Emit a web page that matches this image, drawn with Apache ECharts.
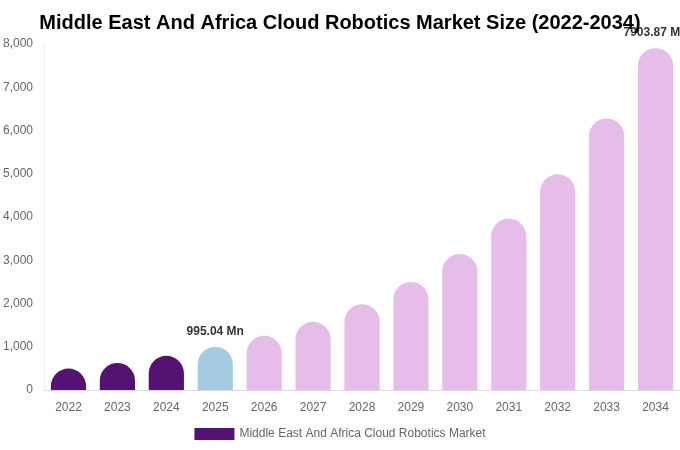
<!DOCTYPE html>
<html><head><meta charset="utf-8">
<script src="https://cdn.jsdelivr.net/npm/echarts@6/dist/echarts.min.js"></script>
<style>html,body{margin:0;padding:0;background:#fff}#c{width:680px;height:450px}</style>
</head><body><div id="c"></div>
<script>
const years = ['2022','2023','2024','2025','2026','2027','2028','2029','2030','2031','2032','2033','2034'];
const values = [495, 625, 790, 995.04, 1252, 1576, 1984, 2498, 3145, 3960, 4986, 6278, 7903.87];
const labelled = {'2025':'995.04 Mn','2034':'7903.87 Mn'};
const seriesName = 'Middle East And Africa Cloud Robotics Market';
const yTicks = [0, 8000, 1000];

function colorFor(y){
  const n = +y;
  if (n < 2025) return '#541273';
  if (n === 2025) return '#a4cbe0';
  return '#e6bde8';
}

const chart = echarts.init(document.getElementById('c'));
chart.setOption({
  animation:false,
  title:{text:'Middle East And Africa Cloud Robotics Market Size (2022-2034)',left:'center',top:8,
    textStyle:{fontFamily:'Liberation Sans',fontWeight:'bold',fontSize:20,color:'#000'}},
  legend:{bottom:5,left:'center',itemWidth:40,itemHeight:12,icon:'rect',
    textStyle:{fontFamily:'Liberation Sans',fontSize:12,color:'#666'},
    data:[{name:seriesName,itemStyle:{color:'#541273'}}]},
  grid:{left:42,right:0,top:44,bottom:60,containLabel:false},
  xAxis:{type:'category',data:years,
    axisLine:{lineStyle:{color:'#ddd'}},axisTick:{show:false},
    axisLabel:{fontFamily:'Liberation Sans',fontSize:12,color:'#666',margin:12}},
  yAxis:{type:'value',min:yTicks[0],max:yTicks[1],interval:yTicks[2],
    axisLine:{show:true,lineStyle:{color:'#eee'}},axisTick:{show:false},splitLine:{show:false},
    axisLabel:{fontFamily:'Liberation Sans',fontSize:12,color:'#666',margin:11,
      formatter:v=>v.toLocaleString('en-US')}},
  series:[{name:seriesName,type:'bar',barWidth:'72%',
    data:values.map((v,i)=>({value:v,itemStyle:{color:colorFor(years[i]),borderRadius:[18,18,0,0]},
      label:{show:!!labelled[years[i]],formatter:labelled[years[i]]||''}})),
    label:{position:'top',distance:9,fontFamily:'Liberation Sans',fontWeight:'bold',fontSize:12,color:'#333'}
  }]
});
</script></body></html>
